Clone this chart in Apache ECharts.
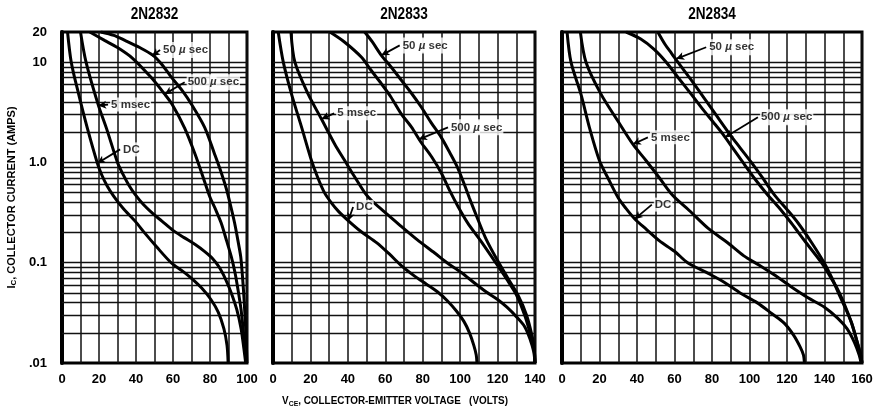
<!DOCTYPE html>
<html><head><meta charset="utf-8">
<script src="https://cdn.jsdelivr.net/npm/echarts@6/dist/echarts.min.js"></script>
<style>html,body{margin:0;padding:0;background:#fff}#c{width:873px;height:408px}</style>
</head><body><div id="c"></div>
<script>
// ---------- data ----------
const panelTitles = ['2N2832', '2N2833', '2N2834'];
const voltageMax = [100, 140, 160];
const curveNames = ['DC', '5 msec', '500 µ sec', '50 µ sec'];
// horizontal grid values (amps)
const gridCurrents = [0.02,0.03,0.04,0.05,0.06,0.07,0.08,0.09,0.1,0.2,0.3,0.4,0.5,0.6,0.7,0.8,0.9,1,2,3,4,5,6,7,8,9,10];

// 2N2832  [VCE volts, IC amps]
const dc_2N2832 = [[3,20],[5,10],[9,4.8],[13.7,2.2],[19,1.0],[21.5,0.75],[24.5,0.58],[28,0.46],[33,0.35],[39.5,0.26],[45,0.195],[51,0.145],[59,0.1],[65,0.083],[70,0.07],[75.5,0.056],[80.5,0.043],[84.5,0.032],[87.5,0.022],[89.2,0.015],[89.8,0.01]];
const ms5_2N2832 = [[10,20],[13,10],[19.5,3.8],[24,2.2],[30,1.0],[33,0.76],[36,0.6],[39.5,0.48],[44,0.38],[49,0.31],[54,0.26],[60,0.21],[66,0.178],[72,0.152],[77,0.13],[81,0.112],[85,0.09],[88.5,0.068],[91.5,0.05],[94.5,0.034],[96.8,0.022],[98.3,0.014],[99.3,0.01]];
const us500_2N2832 = [[15,20],[23,16.5],[30,14],[38,11],[48,7.1],[55.5,4.8],[59.5,3.8],[66.3,2.2],[72,1.2],[77,0.65],[80,0.45],[83,0.34],[86,0.25],[89,0.165],[91.5,0.115],[93.5,0.08],[95.2,0.053],[96.8,0.034],[97.9,0.022],[98.9,0.014],[99.6,0.01]];
const us50_2N2832 = [[21,20],[28,18.5],[34,16.5],[42,14],[49.2,11.7],[54,9.5],[59.1,7.1],[65,5.2],[69.9,3.83],[77.1,2.24],[82.5,1.21],[86,0.8],[88.8,0.55],[91,0.38],[93.3,0.249],[95,0.17],[96.6,0.115],[97.5,0.075],[98.2,0.05],[98.9,0.03],[99.5,0.018],[100,0.01]];

// 2N2833
const dc_2N2833 = [[2.8,20],[5.5,10],[9.9,4.8],[15.3,2.24],[20.6,1.04],[24,0.7],[27.5,0.5],[31,0.4],[35,0.325],[40,0.265],[47,0.205],[55.5,0.158],[62,0.123],[69,0.092],[75.5,0.074],[82,0.061],[88,0.051],[93,0.042],[98,0.033],[102,0.026],[105,0.02],[107.3,0.015],[108.6,0.012],[109,0.01]];
const ms5_2N2833 = [[9.6,20],[11.7,10],[18.8,4.8],[25.9,2.71],[33,1.52],[38.4,1.04],[43,0.75],[49,0.5],[52,0.43],[58,0.34],[68,0.235],[77,0.17],[86.4,0.125],[93,0.1],[100.6,0.08],[108,0.062],[114,0.051],[120,0.043],[125,0.036],[130,0.029],[134.5,0.023],[137.5,0.017],[139.3,0.013],[140,0.01]];
const us500_2N2833 = [[30.4,20],[38,16],[47.3,11.2],[52,8.5],[57.9,6.1],[63,4.5],[68.6,3.04],[74,2.25],[79,1.6],[85,1.12],[90,0.78],[94.5,0.52],[99,0.36],[104,0.25],[111,0.165],[119,0.1],[125,0.068],[130,0.048],[134.5,0.03],[138,0.018],[139.6,0.013],[140,0.01]];
const us50_2N2833 = [[49,20],[53,16],[57.9,11.7],[63,9],[68.6,6.6],[74,4.9],[79.3,3.55],[84.5,2.5],[89.9,1.78],[94.5,1.25],[98.5,0.9],[102,0.62],[105,0.44],[109.5,0.27],[114,0.17],[120,0.105],[125.5,0.07],[130.8,0.048],[135.5,0.03],[138.6,0.018],[139.7,0.013],[140,0.01]];

// 2N2834
const dc_2N2834 = [[2.7,20],[4.8,10],[10.1,4.8],[14.6,2.24],[20,1.04],[24.5,0.7],[29.8,0.45],[34,0.35],[38.7,0.275],[45,0.215],[52,0.165],[60,0.13],[67,0.1],[77,0.08],[86.5,0.064],[95,0.05],[104,0.04],[112,0.031],[118.5,0.025],[123.5,0.019],[127,0.0145],[128.8,0.012],[129.3,0.01]];
const ms5_2N2834 = [[9.8,20],[12.8,10],[20.8,4.8],[29.8,2.59],[37.8,1.52],[44.9,1.04],[52,0.7],[59,0.47],[68,0.33],[78,0.22],[88,0.16],[97,0.117],[105,0.095],[114,0.074],[122,0.058],[131,0.045],[140,0.036],[147,0.028],[152,0.022],[156,0.016],[158.5,0.012],[159.5,0.01]];
const us500_2N2834 = [[34.2,20],[42,17],[49,13.5],[55.6,10],[62,7],[68.9,4.8],[75,3.4],[80.5,2.55],[85.8,1.92],[91,1.4],[96.5,1.0],[103,0.68],[109.5,0.48],[116,0.35],[122.3,0.249],[130,0.16],[138.4,0.1],[143,0.073],[147.3,0.053],[151,0.037],[154.4,0.025],[157.5,0.016],[159.3,0.012],[160,0.01]];
const us50_2N2834 = [[51.1,20],[55,15],[58.5,12.2],[61.8,10],[68,7],[74.3,4.8],[81.5,3.1],[89.4,1.92],[95,1.4],[101,1.0],[107,0.7],[113.5,0.47],[120,0.34],[125.9,0.249],[133,0.16],[139.8,0.1],[144,0.07],[148.5,0.045],[151.5,0.034],[154.5,0.025],[157.5,0.016],[159.3,0.012],[160,0.01]];

// annotations: [text, leader start V, leader start I, arrow tip V, arrow tip I]
const ann_2N2832 = [['50 µ sec',53,13.2,48.6,11.5],['500 µ sec',66.3,6.3,55.5,4.8],['5 msec',24.9,3.78,19.6,3.7],['DC',31.4,1.35,19.1,0.98]];
const ann_2N2833 = [['50 µ sec',67.7,14.7,57.9,11.7],['500 µ sec',93.5,2.24,78,1.7],['5 msec',32.7,3.09,25.9,2.71],['DC',42.8,0.36,40.2,0.262]];
const ann_2N2834 = [['50 µ sec',76.9,14.1,60.9,10.8],['500 µ sec',104.5,2.82,87,1.78],['5 msec',45.8,1.78,37.8,1.52],['DC',47.9,0.38,38.7,0.272]];

const panelCurves = [
  [dc_2N2832, ms5_2N2832, us500_2N2832, us50_2N2832],
  [dc_2N2833, ms5_2N2833, us500_2N2833, us50_2N2833],
  [dc_2N2834, ms5_2N2834, us500_2N2834, us50_2N2834]
];
const panelAnn = [ann_2N2832, ann_2N2833, ann_2N2834];

// ---------- layout / style ----------
const FONT = '"Liberation Sans", Arial, sans-serif';
const gridBoxes = [
  {left: 62, top: 32, width: 185, height: 331},
  {left: 273, top: 32, width: 262, height: 331},
  {left: 562, top: 32, width: 300, height: 331}
];

function yLabel(v) {
  if (Math.abs(v - 0.01) < 1e-6) return '.01';
  if (Math.abs(v - 0.1) < 1e-5) return '0.1';
  if (Math.abs(v - 1) < 1e-4) return '1.0';
  return String(Math.round(v));
}
function annText(t) {
  return t.replace('µ', '{mu|µ}');
}

const grids = [], xAxes = [], yAxes = [], series = [];
for (let i = 0; i < 3; i++) {
  grids.push(Object.assign({show: true, borderColor: '#000', borderWidth: 3, backgroundColor: '#fff', containLabel: false, outerBoundsMode: 'none'}, gridBoxes[i]));
  xAxes.push({
    gridIndex: i, type: 'value', min: 0, max: voltageMax[i], interval: 10,
    axisLine: {show: false}, axisTick: {show: false},
    splitLine: {show: true, lineStyle: {color: '#111', width: 1.5}},
    axisLabel: {formatter: v => (v % 20 === 0 ? String(v) : ''), fontSize: 13, fontWeight: 'bold', color: '#000', fontFamily: FONT, margin: 10}
  });
  yAxes.push({
    gridIndex: i, type: 'log', logBase: 10, min: 0.01, max: 20,
    axisLine: {show: true, lineStyle: {color: '#000', width: 4}}, axisTick: {show: false}, splitLine: {show: false},
    axisLabel: {show: i === 0, formatter: yLabel, fontSize: 13, fontWeight: 'bold', color: '#000', fontFamily: FONT, margin: 15},
    name: i === 0 ? '{a|I}{s|C}{a|, COLLECTOR CURRENT (AMPS)}' : '',
    nameLocation: 'middle', nameRotate: 90, nameGap: 44,
    nameTextStyle: {rich: {
      a: {fontSize: 11, fontWeight: 'bold', color: '#000', fontFamily: FONT},
      s: {fontSize: 8, fontWeight: 'bold', color: '#000', fontFamily: FONT, verticalAlign: 'bottom', padding: [5, 0, 0, 0]}
    }}
  });
  // horizontal grid lines
  series.push({
    type: 'line', xAxisIndex: i, yAxisIndex: i, data: [[0, 0.01]], showSymbol: false, symbol: 'none',
    lineStyle: {width: 0}, silent: true, animation: false, z: 2,
    markLine: {silent: true, symbol: 'none', animation: false, label: {show: false},
      lineStyle: {color: '#111', width: 1.4, type: 'solid'},
      data: gridCurrents.map(v => ({yAxis: v}))}
  });
  panelCurves[i].forEach((d, k) => {
    series.push({
      name: curveNames[k], type: 'line', xAxisIndex: i, yAxisIndex: i, data: d,
      smooth: 0.3, showSymbol: false, symbol: 'none', animation: false, z: 5,
      lineStyle: {color: '#000', width: 3}
    });
  });
  const ann = panelAnn[i];
  series.push({
    type: 'scatter', xAxisIndex: i, yAxisIndex: i, symbolSize: 0, animation: false, z: 10, silent: true,
    data: ann.map(a => ({value: [a[1], a[2]], label: {formatter: annText(a[0])}})),
    label: {show: true, position: 'right', distance: 2, fontSize: 11.5, fontWeight: 'bold', color: '#000',
      fontFamily: FONT, backgroundColor: '#fff', padding: [1, 1],
      rich: {mu: {fontSize: 11.5, fontStyle: 'italic', color: '#000', fontFamily: FONT, backgroundColor: '#fff', padding: [1, 0]}}},
    markLine: {silent: true, animation: false, symbol: ['none', 'arrow'], symbolSize: [6, 8], label: {show: false},
      lineStyle: {color: '#000', width: 1.8, type: 'solid'},
      data: ann.map(a => [{coord: [a[1], a[2]]}, {coord: [a[3], a[4]]}])}
  });
}

const chart = echarts.init(document.getElementById('c'), null, {renderer: 'canvas'});
chart.setOption({
  backgroundColor: '#fff',
  animation: false,
  grid: grids, xAxis: xAxes, yAxis: yAxes, series: series,
  graphic: [
    ...panelTitles.map((t, i) => ({type: 'text', x: gridBoxes[i].left + gridBoxes[i].width / 2, y: 14, scaleX: 0.8,
      style: {text: t, fontSize: 17, fontWeight: 'bold', fontFamily: FONT, fill: '#000', align: 'center', verticalAlign: 'middle'}})),
    {type: 'text', x: 395, y: 401, scaleX: 0.86, style: {
      text: '{a|V}{s|CE}{a|, COLLECTOR-EMITTER VOLTAGE   (VOLTS)}', align: 'center', verticalAlign: 'middle',
      rich: {a: {fontSize: 11.5, fontWeight: 'bold', fill: '#000', fontFamily: FONT},
             s: {fontSize: 8, fontWeight: 'bold', fill: '#000', fontFamily: FONT, padding: [5, 0, 0, 0]}}}}
  ]
});
</script></body></html>
